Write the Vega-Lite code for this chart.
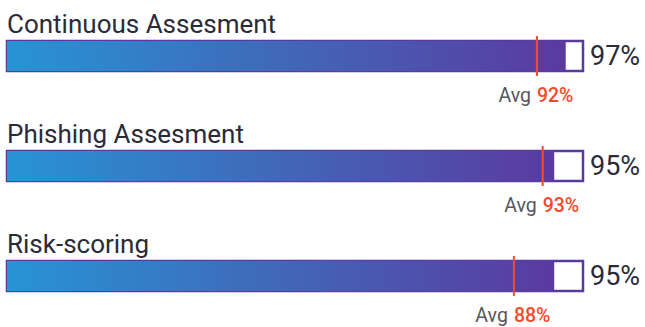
{
  "$schema": "https://vega.github.io/schema/vega-lite/v6.json",
  "width": 576,
  "height": 327,
  "autosize": "none",
  "padding": {"left": 7, "top": 0, "right": 62, "bottom": 0},
  "background": "white",
  "config": {"view": {"stroke": null}, "font": "Roboto"},
  "data": {"values": [
    {"cat": "Continuous Assesment", "value": 97, "avg": 92, "label": "97%", "avgLabel": "92%"},
    {"cat": "Phishing Assesment", "value": 95, "avg": 93, "label": "95%", "avgLabel": "93%"},
    {"cat": "Risk-scoring", "value": 95, "avg": 88, "label": "95%", "avgLabel": "88%"}
  ]},
  "layer": [
    {
      "mark": {"type": "bar", "fill": "white", "stroke": "#5b3a9f", "strokeWidth": 2.5},
      "encoding": {
        "y": {"field": "cat", "type": "nominal", "axis": null,
          "scale": {"type": "band", "domain": ["Continuous Assesment", "Phishing Assesment", "Risk-scoring"], "paddingInner": 0.727, "paddingOuter": 0.35, "align": 0.532}},
        "x": {"datum": 100, "type": "quantitative", "scale": {"domain": [0, 100], "nice": false, "zero": true}, "axis": null}
      }
    },
    {
      "mark": {"type": "bar", "color": {"gradient": "linear", "x1": 0, "y1": 0, "x2": 1, "y2": 0, "stops": [{"offset": 0, "color": "#2794d4"}, {"offset": 1, "color": "#5b3a9f"}]}},
      "encoding": {
        "y": {"field": "cat", "type": "nominal"},
        "x": {"field": "value", "type": "quantitative"}
      }
    },
    {
      "mark": {"type": "tick", "orient": "vertical", "size": 40, "thickness": 2, "color": "#f24e2e", "opacity": 1},
      "encoding": {
        "y": {"field": "cat", "type": "nominal"},
        "x": {"field": "avg", "type": "quantitative"}
      }
    },
    {
      "mark": {"type": "text", "align": "left", "baseline": "alphabetic", "dy": -8, "fontSize": 26, "color": "#2b2b38"},
      "encoding": {
        "x": {"datum": 0, "type": "quantitative"},
        "y": {"field": "cat", "type": "nominal", "bandPosition": 0},
        "text": {"field": "cat"}
      }
    },
    {
      "mark": {"type": "text", "align": "left", "baseline": "middle", "dx": 7, "dy": 1, "fontSize": 27, "color": "#2b2b38"},
      "encoding": {
        "y": {"field": "cat", "type": "nominal"},
        "x": {"datum": 100, "type": "quantitative"},
        "text": {"field": "label"}
      }
    },
    {
      "mark": {"type": "text", "align": "right", "baseline": "alphabetic", "dx": -6, "dy": 31, "fontSize": 19.5, "color": "#555560"},
      "encoding": {
        "x": {"field": "avg", "type": "quantitative"},
        "y": {"field": "cat", "type": "nominal", "bandPosition": 1},
        "text": {"value": "Avg"}
      }
    },
    {
      "mark": {"type": "text", "align": "left", "baseline": "alphabetic", "dx": 0, "dy": 31, "fontSize": 19.5, "fontWeight": 500, "color": "#f44a2c"},
      "encoding": {
        "x": {"field": "avg", "type": "quantitative"},
        "y": {"field": "cat", "type": "nominal", "bandPosition": 1},
        "text": {"field": "avgLabel"}
      }
    }
  ]
}
